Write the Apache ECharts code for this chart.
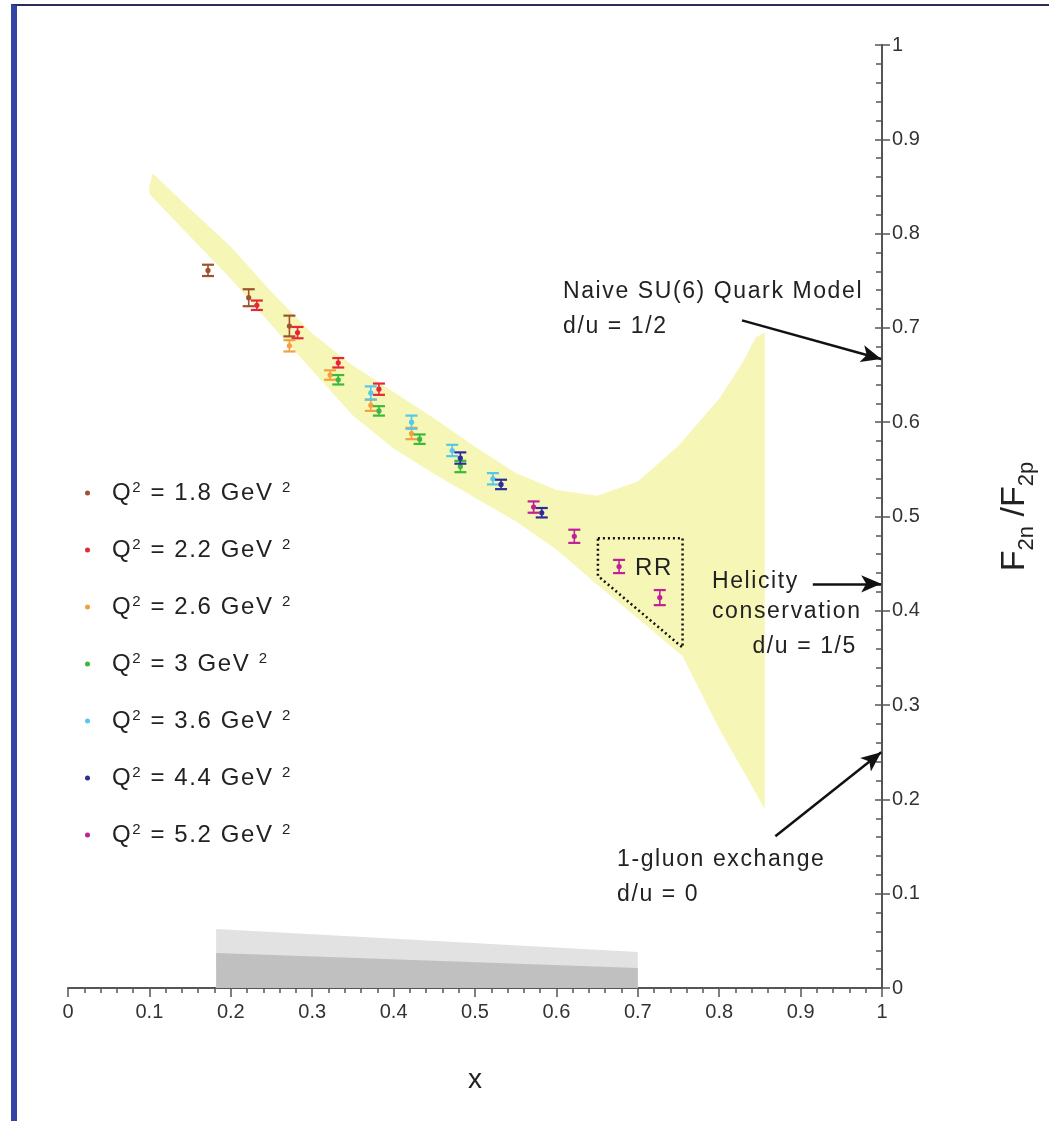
<!DOCTYPE html>
<html><head><meta charset="utf-8">
<script src="https://cdn.jsdelivr.net/npm/echarts@6/dist/echarts.min.js"></script>
<style>
html,body{margin:0;padding:0;background:#fff;}
#chart{position:absolute;left:0;top:0;width:1049px;height:1121px;}
#frame{position:absolute;left:11px;top:4px;width:1040px;height:1121px;border-left:6px solid #3444a6;border-top:2px solid #2a2c5a;pointer-events:none;}
</style></head><body>
<div id="chart"></div><div id="frame"></div>
<script>
// slightly tracked lettering for the annotation / legend font (as in the original figure)
(function () {
  const P = CanvasRenderingContext2D.prototype;
  const of = P.fillText, om = P.measureText;
  function ls(ctx) { if ('letterSpacing' in ctx) ctx.letterSpacing = /Helvetica/.test(ctx.font) ? '1.6px' : '0px'; }
  P.fillText = function () { ls(this); return of.apply(this, arguments); };
  P.measureText = function () { ls(this); return om.apply(this, arguments); };
})();

// ---- data ----
const q2Values = ['1.8', '2.2', '2.6', '3', '3.6', '4.4', '5.2'];
const xTickLabels = ['0','0.1','0.2','0.3','0.4','0.5','0.6','0.7','0.8','0.9','1'];
const yTickLabels = ['0','0.1','0.2','0.3','0.4','0.5','0.6','0.7','0.8','0.9','1'];

const pts18 = [[0.172, 0.761, 0.006], [0.222, 0.732, 0.009], [0.272, 0.702, 0.011]];
const pts22 = [[0.232, 0.724, 0.005], [0.282, 0.695, 0.006], [0.332, 0.663, 0.005], [0.382, 0.635, 0.006]];
const pts26 = [[0.272, 0.681, 0.006], [0.322, 0.650, 0.005], [0.372, 0.618, 0.006], [0.422, 0.588, 0.006]];
const pts30 = [[0.332, 0.645, 0.005], [0.382, 0.612, 0.005], [0.432, 0.582, 0.005], [0.482, 0.553, 0.006]];
const pts36 = [[0.372, 0.631, 0.007], [0.422, 0.600, 0.007], [0.472, 0.570, 0.006], [0.522, 0.540, 0.006]];
const pts44 = [[0.482, 0.562, 0.006], [0.532, 0.534, 0.005], [0.582, 0.504, 0.005]];
const pts52 = [[0.572, 0.510, 0.006], [0.622, 0.479, 0.007], [0.677, 0.447, 0.007], [0.727, 0.414, 0.008]];

const bandUpper = [[0.100,0.850],[0.104,0.864],[0.15,0.826],[0.2,0.786],[0.25,0.738],[0.3,0.694],[0.35,0.660],
  [0.4,0.632],[0.45,0.604],[0.5,0.574],[0.55,0.546],[0.6,0.528],[0.65,0.522],[0.7,0.537],[0.75,0.575],
  [0.8,0.625],[0.83,0.665],[0.845,0.690],[0.856,0.695]];
const bandLower = [[0.856,0.190],[0.8,0.275],[0.755,0.352],[0.7,0.392],[0.65,0.428],[0.6,0.465],[0.55,0.495],
  [0.5,0.520],[0.45,0.545],[0.4,0.572],[0.35,0.607],[0.3,0.655],[0.25,0.703],[0.2,0.752],[0.15,0.797],[0.1,0.842]];
const sysLight = [[0.182,0],[0.182,0.0626],[0.700,0.0382],[0.700,0]];
const sysDark  = [[0.182,0],[0.182,0.0372],[0.700,0.0212],[0.700,0]];
const rrBox = [[0.651,0.477],[0.755,0.477],[0.755,0.361],[0.651,0.437]];

const arrowSU6 = [[0.828,0.708],[0.999,0.667]];
const arrowHel = [[0.915,0.4286],[0.999,0.4286]];
const arrowGlu = [[0.869,0.161],[0.999,0.250]];

// ---- styles ----
const colors = ['#a0522d', '#e8263a', '#f2a040', '#3cb83c', '#55c8ec', '#2b2d9c', '#c0209a'];
const FONT = 'Liberation Sans, Arial, sans-serif';
const FONT_SP = 'Helvetica, Liberation Sans, Arial, sans-serif';
const allPts = [pts18, pts22, pts26, pts30, pts36, pts44, pts52];

function polyItem(points, style) {
  return function (params, api) {
    return { type: 'polygon', shape: { points: points.map(p => api.coord(p)) }, style: style, silent: true };
  };
}
function errRender(params, api) {
  const x = api.value(0), y = api.value(1), e = api.value(2);
  const c = api.coord([x, y]), t = api.coord([x, y + e]), b = api.coord([x, y - e]);
  const col = api.visual('color'), hw = 6;
  return { type: 'group', children: [
    { type: 'line', shape: { x1: c[0], y1: t[1], x2: c[0], y2: b[1] }, style: { stroke: col, lineWidth: 1.6 } },
    { type: 'line', shape: { x1: c[0] - hw, y1: t[1], x2: c[0] + hw, y2: t[1] }, style: { stroke: col, lineWidth: 2.2 } },
    { type: 'line', shape: { x1: c[0] - hw, y1: b[1], x2: c[0] + hw, y2: b[1] }, style: { stroke: col, lineWidth: 2.2 } },
    { type: 'circle', shape: { cx: c[0], cy: c[1], r: 2.6 }, style: { fill: col } }
  ]};
}

const series = [
  { type: 'custom', name: 'band', silent: true, z: 1, data: [bandUpper[0]],
    renderItem: polyItem(bandUpper.concat(bandLower), { fill: '#f6f6b6' }), clip: false },
  { type: 'custom', name: 'sysLight', silent: true, z: 1, data: [sysLight[1]],
    renderItem: polyItem(sysLight, { fill: '#e2e2e2' }) },
  { type: 'custom', name: 'sysDark', silent: true, z: 1, data: [sysDark[1]],
    renderItem: polyItem(sysDark, { fill: '#c0c0c0' }) },
  { type: 'custom', name: 'rr', silent: true, z: 2, data: [rrBox[0]],
    renderItem: polyItem(rrBox, { fill: 'none', stroke: '#111', lineWidth: 2.5, lineDash: [2, 3] }) },
  { type: 'line', name: 'arrows', data: [], silent: true,
    markLine: { silent: true, symbol: ['none', 'arrow'], symbolSize: [13, 20], animation: false,
      lineStyle: { color: '#111', width: 2.5, type: 'solid' }, label: { show: false },
      data: [arrowSU6, arrowHel, arrowGlu].map(a => [{ coord: a[0] }, { coord: a[1] }]) } }
];
q2Values.forEach((q, i) => {
  series.push({ type: 'custom', name: q, z: 5, itemStyle: { color: colors[i] },
    renderItem: errRender, data: allPts[i], encode: { x: 0, y: 1 } });
});

const chart = echarts.init(document.getElementById('chart'), null, { renderer: 'canvas' });
const tstyle = (text, align, size) => ({ text: text, fontSize: size || 23, fontFamily: FONT_SP, fill: '#222', textAlign: align || 'left', textVerticalAlign: 'middle' });
const txt = (text, x, y, align, size) => ({ type: 'text', x: x, y: y, z: 100, silent: true, style: tstyle(text, align, size) });

chart.setOption({
  animation: false,
  backgroundColor: '#fff',
  textStyle: { fontFamily: FONT },
  grid: { left: 68, right: 167, top: 45, bottom: 133, containLabel: false },
  xAxis: {
    type: 'value', min: 0, max: 1, interval: 0.1,
    axisLine: { onZero: false, lineStyle: { color: '#555', width: 2 } },
    axisTick: { show: true, length: 9, lineStyle: { color: '#555', width: 1.5 } },
    minorTick: { show: true, splitNumber: 5, length: 5, lineStyle: { color: '#555', width: 1.5 } },
    splitLine: { show: false },
    axisLabel: { fontSize: 20, color: '#333', margin: 14, formatter: (v) => xTickLabels[Math.round(v * 10)] },
    name: 'x', nameLocation: 'middle', nameGap: 78, nameTextStyle: { fontSize: 28, color: '#222' }
  },
  yAxis: [{
    type: 'value', min: 0, max: 1, interval: 0.1, position: 'right',
    axisLine: { onZero: false, lineStyle: { color: '#555', width: 2 } },
    axisTick: { show: true, length: 8, lineStyle: { color: '#555', width: 1.5 } },
    splitLine: { show: false },
    axisLabel: { fontSize: 20, color: '#333', margin: 10, formatter: (v) => yTickLabels[Math.round(v * 10)] },
    name: '{f|F}{s|2n}{f| /F}{s|2p}', nameLocation: 'middle', nameRotate: 90, nameGap: 116,
    nameTextStyle: { color: '#222', rich: {
      f: { fontSize: 34, lineHeight: 40, verticalAlign: 'top', color: '#222' },
      s: { fontSize: 22, lineHeight: 22, verticalAlign: 'bottom', color: '#222' } } }
  }, {
    type: 'value', min: 0, max: 1, interval: 0.1, position: 'left', offset: -814,
    axisLine: { show: false },
    axisTick: { show: true, length: 7, lineStyle: { color: '#555', width: 1.5 } },
    minorTick: { show: true, splitNumber: 5, length: 6, lineStyle: { color: '#555', width: 1.5 } },
    splitLine: { show: false }, axisLabel: { show: false }
  }],
  legend: {
    data: q2Values, orient: 'vertical', left: 85, top: 480, padding: 0, icon: 'circle',
    itemWidth: 5, itemHeight: 5, itemGap: 31, selectedMode: false,
    formatter: (n) => '{g| }{m|Q}{s|2}{m| = ' + n + ' GeV }{s|2}',
    textStyle: { color: '#222', rich: {
      g: { width: 17, fontSize: 24, fontFamily: FONT },
      m: { fontSize: 24, lineHeight: 26, verticalAlign: 'bottom', color: '#222', fontFamily: FONT_SP },
      s: { fontSize: 15, lineHeight: 15, verticalAlign: 'top', color: '#222', fontFamily: FONT_SP } } }
  },
  graphic: [
    txt('Naive SU(6) Quark Model', 563, 292),
    txt('d/u = 1/2', 563, 327),
    txt('Helicity', 712, 582),
    txt('conservation', 712, 612),
    txt('d/u = 1/5', 857, 647, 'right'),
    txt('RR', 635, 568, 'left', 24),
    txt('1-gluon exchange', 617, 860),
    txt('d/u = 0', 617, 895)
  ],
  series: series
});
</script></body></html>
